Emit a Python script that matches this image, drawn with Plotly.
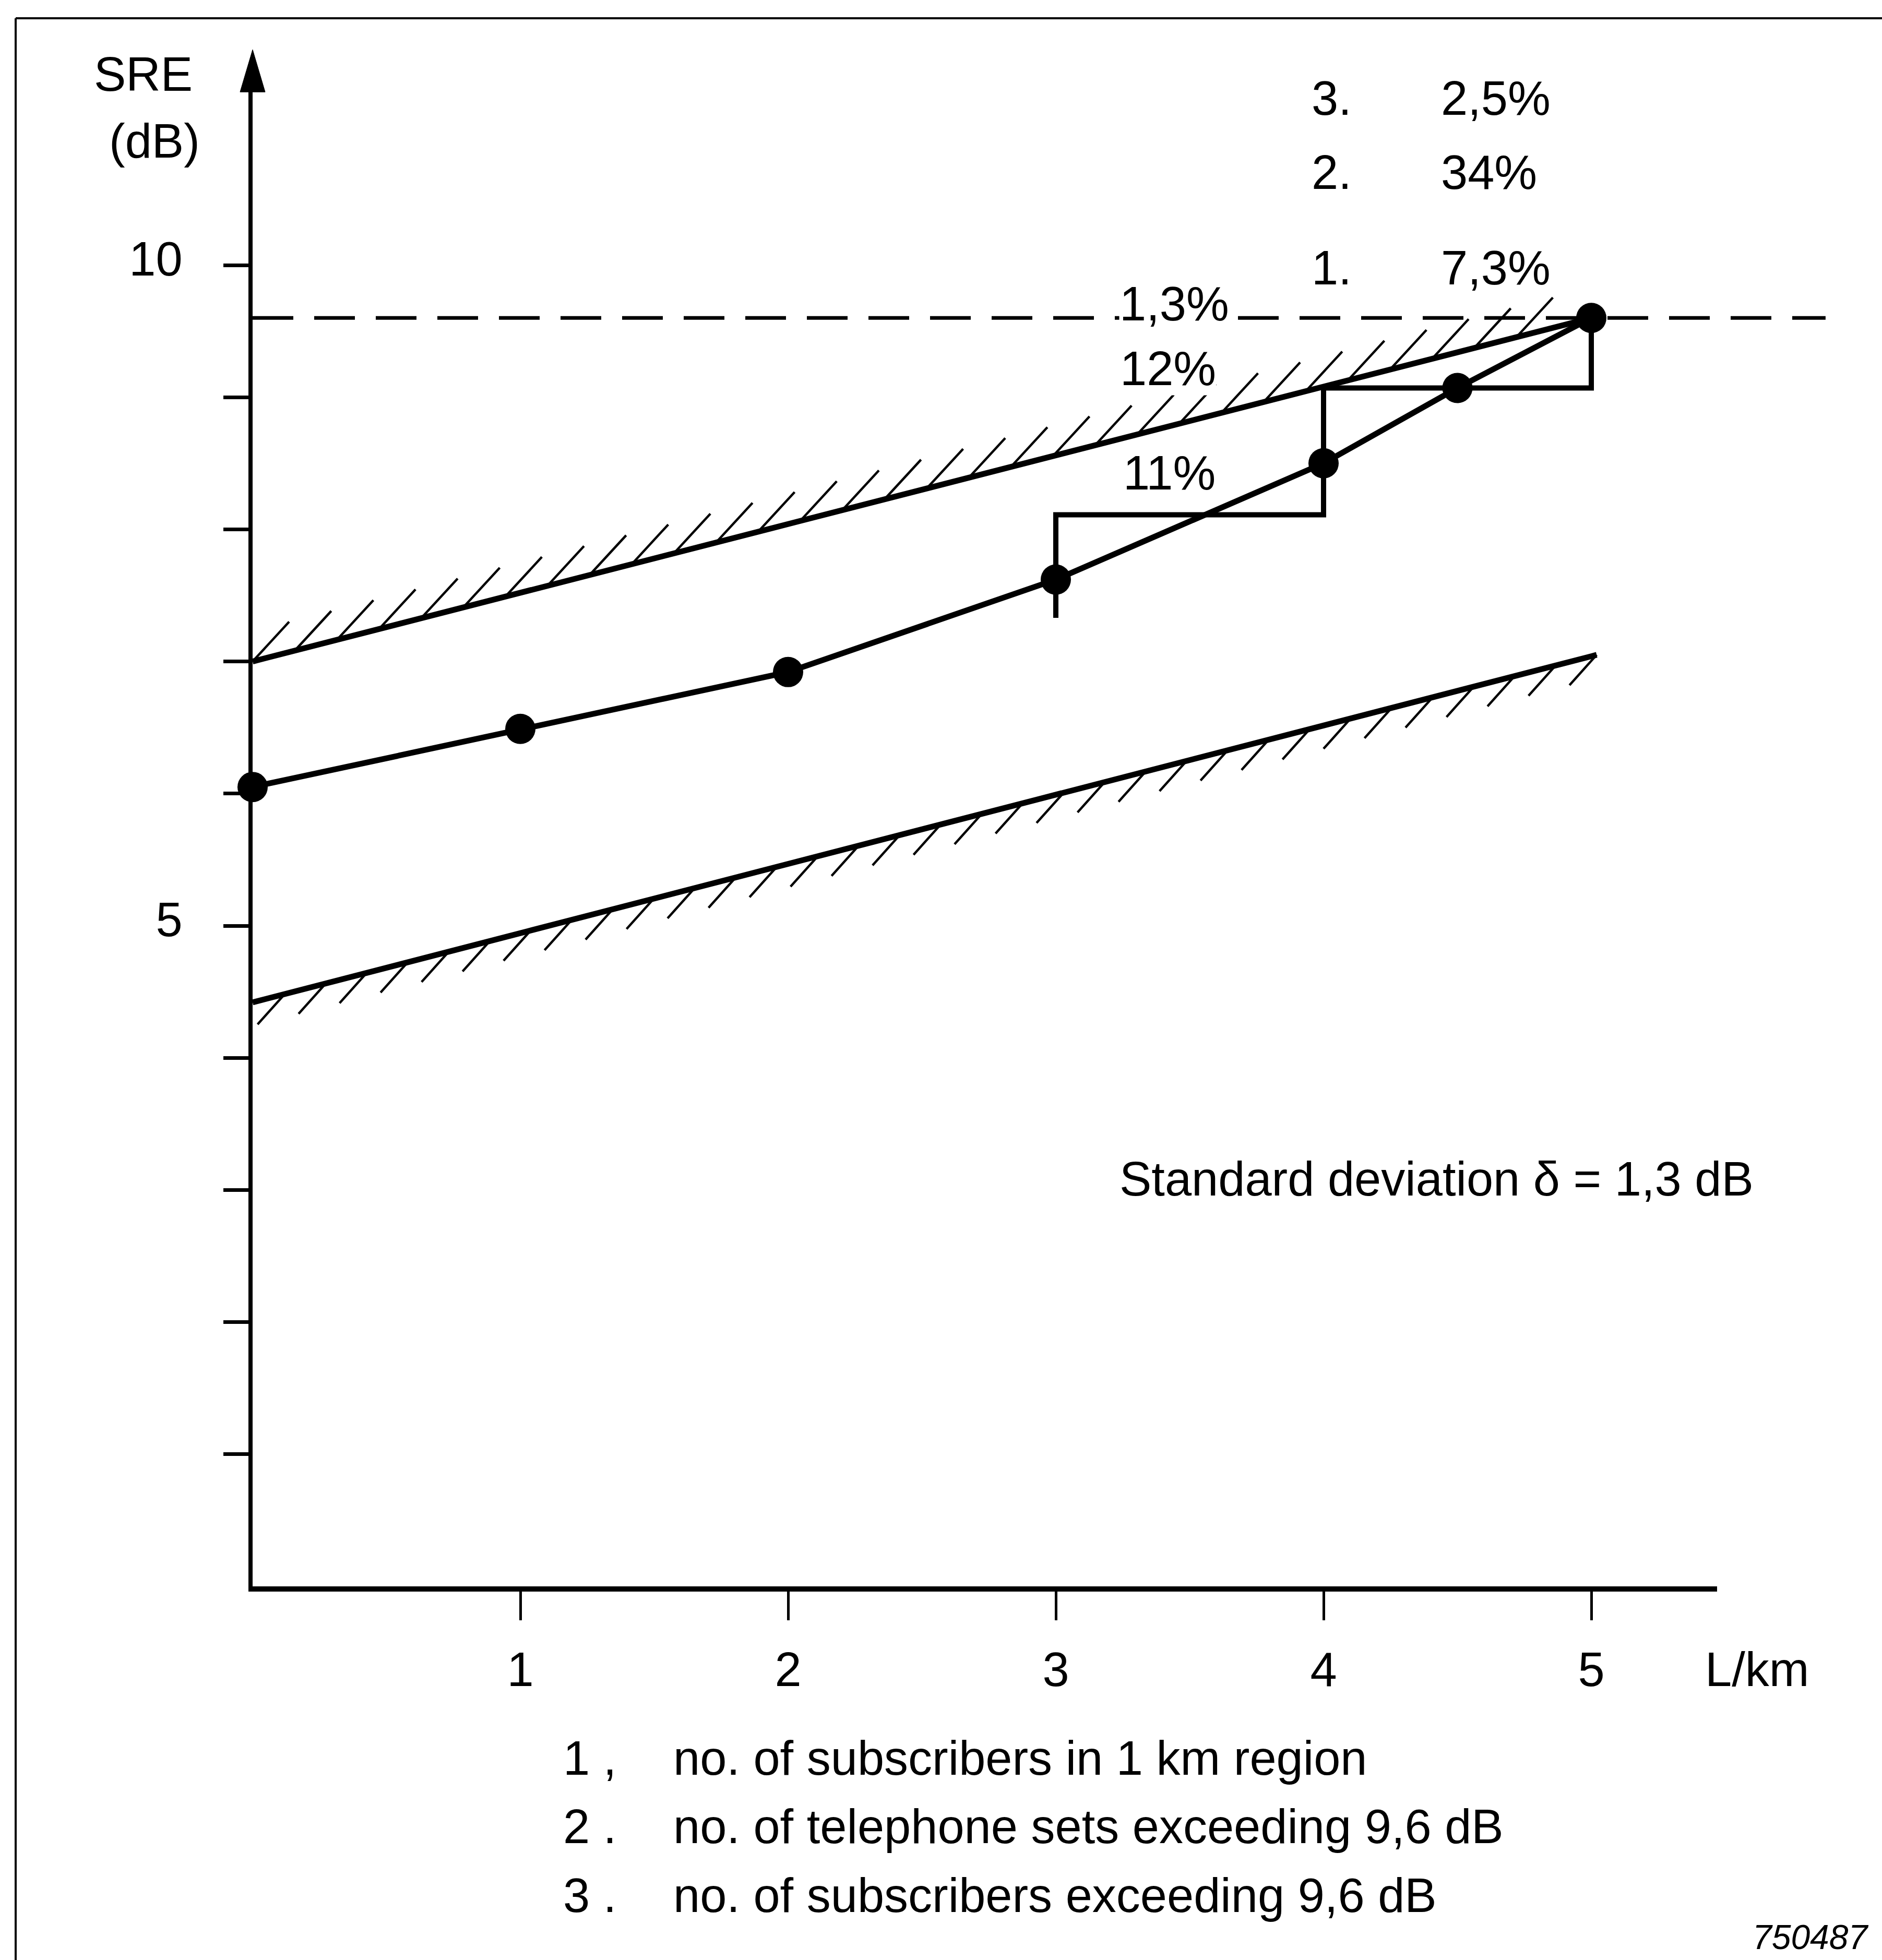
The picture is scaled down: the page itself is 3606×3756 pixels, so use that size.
import plotly.graph_objects as go

# ---------------------------------------------------------------- data
length_km = [0, 1, 2, 3, 4, 4.5, 5]
sre_db = [6.05, 6.49, 6.92, 7.62, 8.50, 9.07, 9.60]

upper_km = [0, 5]
upper_db = [7.0, 9.6]
lower_km = [0, 5.02]
lower_db = [4.42, 7.05]

threshold_db = 9.6
threshold_km = [0, 5.875]

step_km = [3, 3, 4, 4, 5, 5]
step_db = [7.33, 8.11, 8.11, 9.07, 9.07, 9.6]

x_tick_vals = [1, 2, 3, 4, 5]
y_tick_vals = [1, 2, 3, 4, 5, 6, 7, 8, 9, 10]
y_tick_text = ["", "", "", "", "5", "", "", "", "", "10"]

region_labels = ["1,3%", "12%", "11%"]
share_keys = ["3.", "2.", "1."]
share_values = ["2,5%", "34%", "7,3%"]
legend_keys = ["1 ,", "2 .", "3 ."]
legend_texts = [
    "no. of subscribers in 1 km region",
    "no. of telephone sets exceeding 9,6 dB",
    "no. of subscribers exceeding 9,6 dB",
]
note_text = "Standard deviation \u03b4 = 1,3 dB"
figure_id = "750487"

# ---------------------------------------------------------------- geometry
W, H = 3606, 3756
X0_PX, Y0_PX = 484.0, 3040.0          # pixel position of the origin
PX_PER_KM, PX_PER_DB = 513.0, 253.2   # axis scales

X_AXIS_END = 5.47
Y_AXIS_END = 11.33
ARROW_TIP = 11.63
ARROW_HALF_PX = 24

FONT = "Liberation Sans, Arial, Helvetica, sans-serif"
FS = 92
INK = "black"


def km_at(px):
    return (px - X0_PX) / PX_PER_KM


def db_at(py):
    return (Y0_PX - py) / PX_PER_DB


def hatch(kms, dbs, start, stop, count, dx_px, dy_px):
    """Short oblique strokes along a straight limit line."""
    xs, ys = [], []
    k0, k1 = kms
    d0, d1 = dbs
    for i in range(count):
        k = start + (stop - start) * i / (count - 1)
        d = d0 + (d1 - d0) * (k - k0) / (k1 - k0)
        xs += [k, k + dx_px / PX_PER_KM, None]
        ys += [d, d + dy_px / PX_PER_DB, None]
    return xs, ys


fig = go.Figure()

# hatching of the two limit lines
hx, hy = hatch(upper_km, upper_db, 0.0, 4.72, 31, 70, 76)
fig.add_trace(go.Scatter(x=hx, y=hy, mode="lines",
                         line=dict(color=INK, width=4.5), hoverinfo="skip"))
hx, hy = hatch(lower_km, lower_db, 0.12, 5.02, 33, -52, -58)
fig.add_trace(go.Scatter(x=hx, y=hy, mode="lines",
                         line=dict(color=INK, width=4.5), hoverinfo="skip"))

# limit lines
fig.add_trace(go.Scatter(x=upper_km, y=upper_db, mode="lines",
                         line=dict(color=INK, width=11)))
fig.add_trace(go.Scatter(x=lower_km, y=lower_db, mode="lines",
                         line=dict(color=INK, width=11)))

# 9,6 dB threshold
fig.add_trace(go.Scatter(x=threshold_km, y=[threshold_db, threshold_db],
                         mode="lines",
                         line=dict(color=INK, width=7, dash="78px,40px")))

# 1 km region steps
fig.add_trace(go.Scatter(x=step_km, y=step_db, mode="lines",
                         line=dict(color=INK, width=10)))

# measured SRE
fig.add_trace(go.Scatter(x=length_km, y=sre_db, mode="lines+markers",
                         line=dict(color=INK, width=11),
                         marker=dict(color=INK, size=58),
                         cliponaxis=False))

# arrow head of the SRE axis
ah = ARROW_HALF_PX / PX_PER_KM
fig.add_trace(go.Scatter(x=[-ah, 0, ah, -ah],
                         y=[Y_AXIS_END - 0.02, ARROW_TIP, Y_AXIS_END - 0.02,
                            Y_AXIS_END - 0.02],
                         mode="lines", fill="toself", fillcolor=INK,
                         line=dict(color=INK, width=1)))

# empty trace so the visible axis pair gets drawn
fig.add_trace(go.Scatter(x=[None], y=[None], xaxis="x2", yaxis="y2"))

tick_font = dict(family=FONT, size=FS, color=INK)

fig.update_layout(
    width=W, height=H,
    margin=dict(l=0, r=0, t=0, b=0),
    paper_bgcolor="white",
    plot_bgcolor="rgba(0,0,0,0)",
    showlegend=False,
    xaxis=dict(domain=[0, 1], range=[km_at(0), km_at(W)], visible=False,
               fixedrange=True),
    yaxis=dict(domain=[0, 1], range=[db_at(H), db_at(0)], visible=False,
               fixedrange=True),
    xaxis2=dict(
        domain=[X0_PX / W, (X0_PX + PX_PER_KM * X_AXIS_END) / W],
        range=[0, X_AXIS_END], anchor="y2",
        showline=True, linecolor=INK, linewidth=10,
        showgrid=False, zeroline=False,
        ticks="outside", ticklen=55, tickwidth=5, tickcolor=INK,
        tickvals=x_tick_vals, tickfont=tick_font, ticklabelstandoff=16,
    ),
    yaxis2=dict(
        domain=[(H - Y0_PX) / H, (H - Y0_PX + PX_PER_DB * Y_AXIS_END) / H],
        range=[0, Y_AXIS_END], anchor="x2",
        showline=True, linecolor=INK, linewidth=8,
        showgrid=False, zeroline=False,
        ticks="outside", ticklen=48, tickwidth=7, tickcolor=INK,
        tickvals=y_tick_vals, ticktext=y_tick_text, tickfont=tick_font,
        ticklabelstandoff=60, ticklabelshift=-12,
    ),
)

# frame
fig.add_shape(type="line", xref="paper", yref="paper",
              x0=30 / W, x1=1, y0=1 - 35 / H, y1=1 - 35 / H,
              line=dict(color=INK, width=4))
fig.add_shape(type="line", xref="paper", yref="paper",
              x0=30 / W, x1=30 / W, y0=0, y1=1 - 35 / H,
              line=dict(color=INK, width=4))


def label(text, x, y, xanchor="center", size=FS, bg=None, italic=False):
    fig.add_annotation(
        text=text, x=x, y=y, xref="paper", yref="paper",
        xanchor=xanchor, yanchor="middle", showarrow=False,
        font=dict(family=FONT, size=size, color=INK,
                  style="italic" if italic else "normal"),
        bgcolor=bg, borderpad=0,
    )


# axis titles
label("SRE", 274 / W, 1 - 142 / H)
label("(dB)", 296 / W, 1 - 270 / H)
label("L/km", 3366 / W, 1 - 3199 / H)

# percentages of the last km
share_rows = [188, 330, 513]
for key, val, py in zip(share_keys, share_values, share_rows):
    label(key, 2512 / W, 1 - py / H, xanchor="left")
    label(val, 2760 / W, 1 - py / H, xanchor="left", bg="white")

# percentages at the region steps
region_pos = [(2250, 582), (2238, 706), (2240, 906)]
for txt, (px, py) in zip(region_labels, region_pos):
    label(txt, px / W, 1 - py / H, bg="white")

label(note_text, 2144 / W, 1 - 2259 / H, xanchor="left")

legend_rows = [3369, 3500, 3632]
for key, txt, py in zip(legend_keys, legend_texts, legend_rows):
    label(key, 1078 / W, 1 - py / H, xanchor="left")
    label(txt, 1289 / W, 1 - py / H, xanchor="left")

label(figure_id, 3582 / W, 1 - 3712 / H, xanchor="right", size=66,
      italic=True)

fig.write_html("out.html")
